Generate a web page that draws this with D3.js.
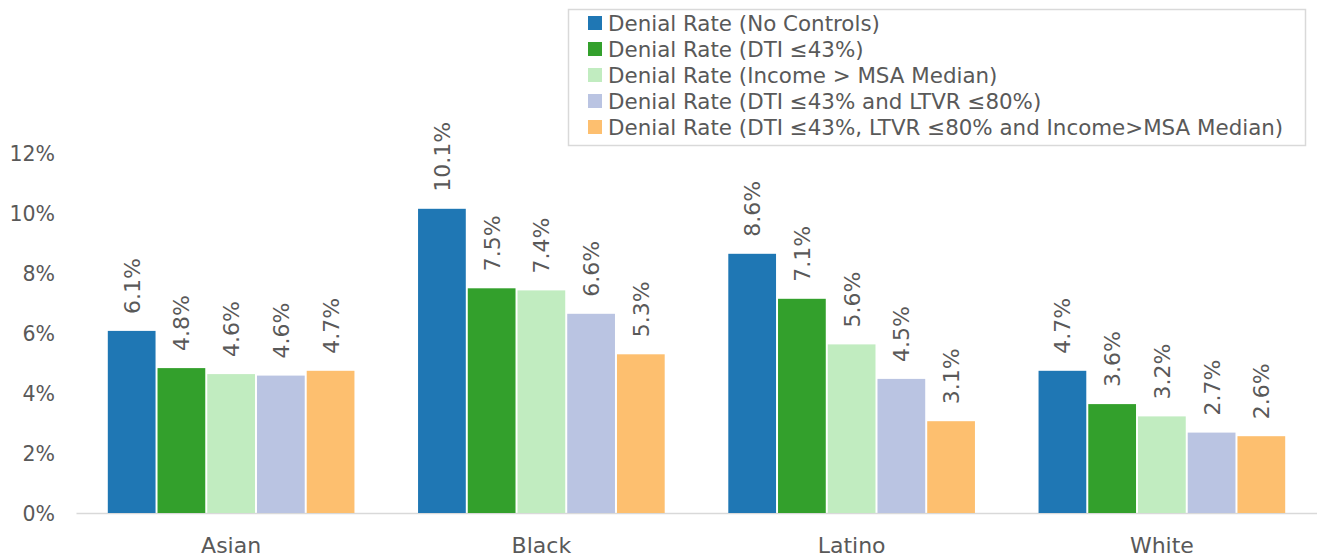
<!DOCTYPE html>
<html>
<head>
<meta charset="utf-8">
<script src="https://cdn.jsdelivr.net/npm/d3@7"></script>
<style>
  html, body { margin: 0; padding: 0; background: #fff; }
  svg { display: block; }
  text { font-family: "DejaVu Sans", sans-serif; fill: #595959; }
</style>
</head>
<body>
<svg id="chart" width="1317" height="557"></svg>
<script>
const categories = ["Asian", "Black", "Latino", "White"];
const seriesNames = [
  "Denial Rate (No Controls)",
  "Denial Rate (DTI \u226443%)",
  "Denial Rate (Income > MSA Median)",
  "Denial Rate (DTI \u226443% and LTVR \u226480%)",
  "Denial Rate (DTI \u226443%, LTVR \u226480% and Income>MSA Median)"
];
const noControls   = [6.07, 10.14, 8.64, 4.74];
const dti43        = [4.83, 7.49, 7.14, 3.63];
const incomeAbove  = [4.63, 7.42, 5.62, 3.22];
const dtiLtvr      = [4.58, 6.64, 4.47, 2.68];
const dtiLtvrIncome= [4.74, 5.29, 3.06, 2.56];
const seriesValues = [noControls, dti43, incomeAbove, dtiLtvr, dtiLtvrIncome];
const colors = ["#1f77b4", "#33a02c", "#c1ecc0", "#bac4e2", "#fdbf6f"];
const yTicks = [0, 2, 4, 6, 8, 10, 12];

const svg = d3.select("#chart");

const x0 = d3.scaleBand().domain(categories).range([76, 1317]).paddingInner(0).paddingOuter(0);
const groupW = x0.bandwidth() * 0.795;
const x1 = d3.scaleBand().domain(d3.range(seriesNames.length)).range([-groupW / 2, groupW / 2]).paddingInner(0.04);
const y = d3.scaleLinear().domain([0, 12]).range([513, 153]);

// y axis tick labels
const yAxis = d3.axisLeft(y).tickValues(yTicks).tickFormat(d => d + "%").tickSize(0).tickPadding(0);
const gy = svg.append("g").attr("transform", "translate(55,0)").call(yAxis);
gy.select(".domain").remove();
gy.selectAll("text").style("font-size", "20.5px").attr("fill", "#595959").attr("dy", "0.35em");

// baseline
const xAxis = d3.axisBottom(x0).tickSize(0).tickPadding(0);
const gx = svg.append("g").attr("transform", `translate(0,${y(0)})`).call(xAxis);
gx.select(".domain").attr("stroke", "#d9d9d9").attr("stroke-width", 1.5);
gx.selectAll("text").style("font-size", "22px").attr("fill", "#595959").attr("y", 24).attr("dy", "0.71em");

// bars
const groups = svg.append("g").selectAll("g")
  .data(categories).join("g")
  .attr("transform", d => `translate(${x0(d) + x0.bandwidth() / 2},0)`);

groups.each(function(cat, ci) {
  const g = d3.select(this);
  seriesValues.forEach((vals, si) => {
    const v = vals[ci];
    g.append("rect")
      .attr("x", x1(si))
      .attr("width", x1.bandwidth())
      .attr("y", y(v))
      .attr("height", y(0) - y(v))
      .attr("fill", colors[si]);
    const cx = x1(si) + x1.bandwidth() / 2;
    const ty = y(v) - 17;
    g.append("text")
      .attr("transform", `translate(${cx},${ty}) rotate(-90)`)
      .attr("dy", "0.36em")
      .attr("text-anchor", "start")
      .style("font-size", "22px")
      .text(v.toFixed(1) + "%");
  });
});

// legend
const lg = svg.append("g");
lg.append("rect")
  .attr("x", 568.5).attr("y", 9.5).attr("width", 737).attr("height", 136)
  .attr("fill", "#fff").attr("stroke", "#d9d9d9").attr("stroke-width", 1.5);
seriesNames.forEach((name, i) => {
  const cy = 23 + i * 26;
  lg.append("rect").attr("x", 588).attr("y", cy - 7).attr("width", 14).attr("height", 14).attr("fill", colors[i]);
  lg.append("text").attr("x", 608).attr("y", cy).attr("dy", "0.36em")
    .style("font-size", "21.4px").text(name);
});
</script>
</body>
</html>
